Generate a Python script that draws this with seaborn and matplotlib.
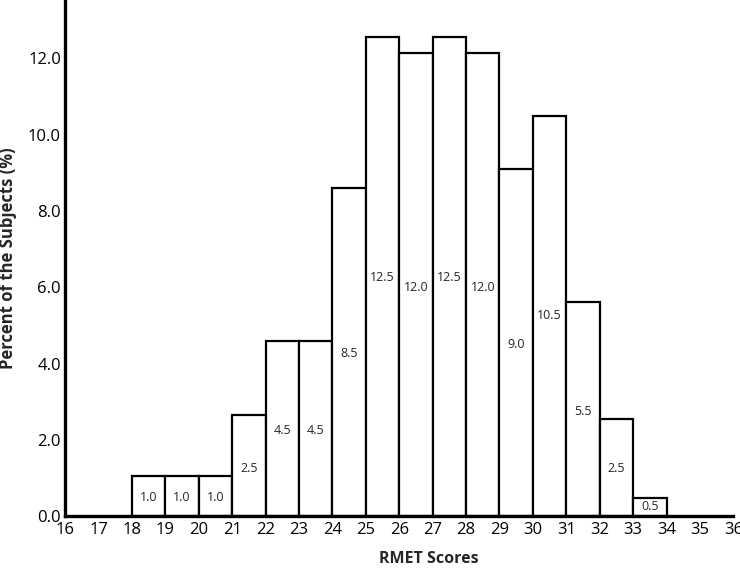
import pandas as pd
import matplotlib
matplotlib.use('Agg')
import matplotlib.pyplot as plt
import seaborn as sns

# RMET score (left edge of each bin) and percent of subjects
scores = [18, 19, 20, 21, 22, 23, 24, 25, 26, 27, 28, 29, 30, 31, 32, 33]
percent = [1.05, 1.05, 1.05, 2.65, 4.6, 4.6, 8.6, 12.55, 12.15, 12.55, 12.15, 9.1, 10.5, 5.6, 2.55, 0.47]
bar_labels = ['1.0', '1.0', '1.0', '2.5', '4.5', '4.5', '8.5', '12.5', '12.0', '12.5', '12.0',
              '9.0', '10.5', '5.5', '2.5', '0.5']
x_ticks = list(range(16, 37))
y_ticks = [0, 2, 4, 6, 8, 10, 12]

sns.set_theme(style='white')
plt.rcParams['font.family'] = ['Open Sans', 'DejaVu Sans']

df = pd.DataFrame({'score': scores, 'pct': percent})

fig = plt.figure(figsize=(7.4, 5.69), dpi=100)
ax = fig.add_axes([0.088, 0.093, 0.903, 0.905])

sns.histplot(data=df, x='score', weights='pct', binwidth=1, binrange=(18, 34), stat='count',
             color='white', edgecolor='black', linewidth=1.6, alpha=1, ax=ax)

# labels inside the bars
for p, lab in zip(ax.patches, bar_labels):
    v = float(lab)
    ax.text(p.get_x() + p.get_width() / 2, v / 2, lab, ha='center', va='center', fontsize=9)

ax.set_xlim(16, 36)
ax.set_ylim(0, 13.5)
ax.set_xticks(x_ticks)
ax.set_yticks(y_ticks)
ax.set_yticklabels([f'{t:.1f}' for t in y_ticks])
ax.tick_params(axis='both', length=0, labelsize=12, colors='black')
ax.tick_params(axis='x', pad=4)
ax.tick_params(axis='y', pad=3)

for s in ['top', 'right']:
    ax.spines[s].set_visible(False)
for s in ['left', 'bottom']:
    ax.spines[s].set_linewidth(2.4)
    ax.spines[s].set_color('black')

ax.set_xlabel('RMET Scores', fontsize=11.5, fontweight='bold')
ax.set_ylabel('Percent of the Subjects (%)', fontsize=12, fontweight='bold')
ax.xaxis.set_label_coords(0.545, -0.068)
ax.yaxis.set_label_coords(-0.072, 0.5)

plt.savefig('out.png', dpi=100)
